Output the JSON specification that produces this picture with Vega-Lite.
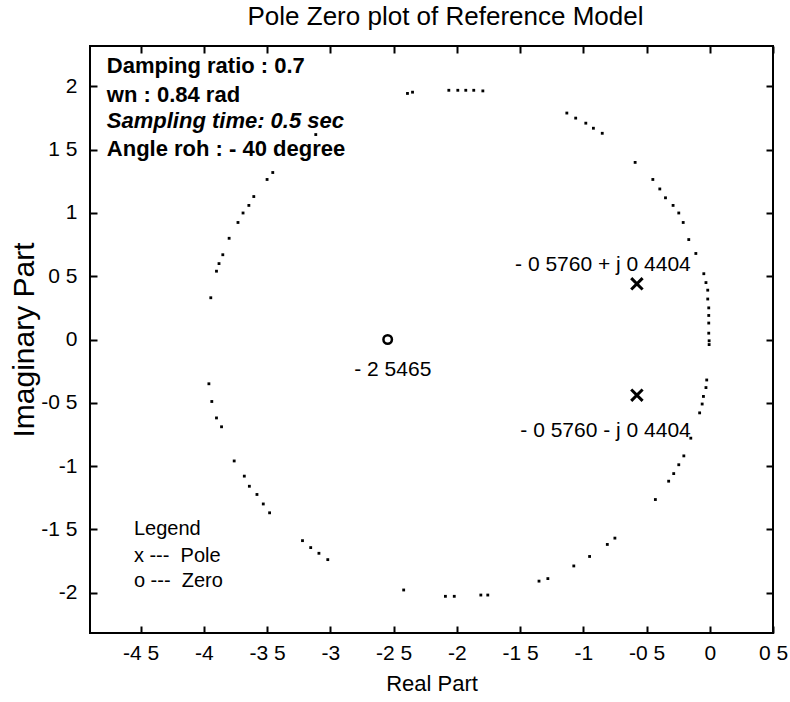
{
  "$schema": "https://vega.github.io/schema/vega-lite/v6.json",
  "width": 683,
  "height": 587,
  "autosize": {"type": "none"},
  "padding": {"left": 90, "top": 46, "right": 17, "bottom": 69},
  "background": "white",
  "config": {"font": "Liberation Sans", "view": {"stroke": "black", "strokeWidth": 2}},
  "title": {"text": "Pole Zero plot of Reference Model", "fontSize": 26, "fontWeight": "normal", "font": "Liberation Sans", "color": "black", "offset": 15, "dx": 14},
  "datasets": {
    "rho": [
      {"re": -2.39, "im": 1.945}, {"re": -2.35, "im": 1.955},
      {"re": -2.063, "im": 1.97}, {"re": -1.992, "im": 1.97}, {"re": -1.929, "im": 1.97}, {"re": -1.866, "im": 1.97}, {"re": -1.794, "im": 1.965},
      {"re": -3.115, "im": 1.62},
      {"re": -3.455, "im": 1.32}, {"re": -3.5, "im": 1.265}, {"re": -3.605, "im": 1.13}, {"re": -3.644, "im": 1.06}, {"re": -3.69, "im": 1.0}, {"re": -3.73, "im": 0.925}, {"re": -3.8, "im": 0.8}, {"re": -3.85, "im": 0.67}, {"re": -3.88, "im": 0.6}, {"re": -3.9, "im": 0.54}, {"re": -3.945, "im": 0.33},
      {"re": -3.96, "im": -0.35}, {"re": -3.937, "im": -0.49}, {"re": -3.9, "im": -0.62}, {"re": -3.86, "im": -0.69}, {"re": -3.76, "im": -0.96}, {"re": -3.68, "im": -1.08}, {"re": -3.64, "im": -1.16}, {"re": -3.58, "im": -1.225}, {"re": -3.53, "im": -1.3}, {"re": -3.48, "im": -1.37}, {"re": -3.22, "im": -1.59}, {"re": -3.155, "im": -1.645}, {"re": -3.09, "im": -1.69}, {"re": -3.02, "im": -1.74},
      {"re": -2.42, "im": -1.98}, {"re": -2.09, "im": -2.03}, {"re": -2.02, "im": -2.03}, {"re": -1.81, "im": -2.02}, {"re": -1.755, "im": -2.02},
      {"re": -1.35, "im": -1.91}, {"re": -1.28, "im": -1.89}, {"re": -1.075, "im": -1.79}, {"re": -0.95, "im": -1.715}, {"re": -0.81, "im": -1.62}, {"re": -0.75, "im": -1.57}, {"re": -0.43, "im": -1.265}, {"re": -0.325, "im": -1.12}, {"re": -0.285, "im": -1.06}, {"re": -0.245, "im": -0.99}, {"re": -0.205, "im": -0.92}, {"re": -0.15, "im": -0.78}, {"re": -0.08, "im": -0.58}, {"re": -0.06, "im": -0.51}, {"re": -0.05, "im": -0.45}, {"re": -0.03, "im": -0.38}, {"re": -0.024, "im": -0.32}, {"re": -0.005, "im": -0.01}, {"re": -0.005, "im": -0.04},
      {"re": -1.13, "im": 1.79}, {"re": -1.06, "im": 1.75}, {"re": -0.98, "im": 1.71}, {"re": -0.92, "im": 1.67}, {"re": -0.85, "im": 1.63}, {"re": -0.59, "im": 1.4}, {"re": -0.45, "im": 1.265}, {"re": -0.395, "im": 1.19}, {"re": -0.35, "im": 1.12}, {"re": -0.29, "im": 1.06}, {"re": -0.245, "im": 1.0}, {"re": -0.21, "im": 0.925}, {"re": -0.166, "im": 0.79}, {"re": -0.11, "im": 0.68}, {"re": -0.047, "im": 0.52}, {"re": -0.03, "im": 0.45}, {"re": -0.016, "im": 0.39}, {"re": -0.016, "im": 0.32}, {"re": -0.008, "im": 0.25}, {"re": -0.008, "im": 0.19}, {"re": -0.008, "im": 0.13}, {"re": -0.008, "im": 0.05}
    ],
    "poles": [{"re": -0.576, "im": 0.4404}, {"re": -0.576, "im": -0.4404}],
    "zeros": [{"re": -2.5465, "im": 0}],
    "rootLabels": [
      {"re": -0.15, "im": 0.54, "label": "- 0 5760 + j 0 4404"},
      {"re": -0.15, "im": -0.767, "label": "- 0 5760 - j 0 4404"}
    ],
    "zeroLabel": [{"re": -2.506, "im": -0.292, "label": "- 2 5465"}],
    "info": [
      {"re": -4.767, "im": 2.103, "label": "Damping ratio : 0.7"},
      {"re": -4.767, "im": 1.881, "label": "wn : 0.84 rad"},
      {"re": -4.767, "im": 1.447, "label": "Angle roh : - 40 degree"}
    ],
    "infoItalic": [{"re": -4.767, "im": 1.668, "label": "Sampling time: 0.5 sec"}],
    "legendText": [
      {"re": -4.553, "im": -1.542, "label": "Legend"},
      {"re": -4.553, "im": -1.755, "label": "x --- \u00a0Pole"},
      {"re": -4.553, "im": -1.96, "label": "o --- \u00a0Zero"}
    ]
  },
  "encoding": {
    "x": {"field": "re", "type": "quantitative", "scale": {"domain": [-4.9, 0.5], "nice": false, "zero": false}, "axis": null},
    "y": {"field": "im", "type": "quantitative", "scale": {"domain": [-2.32, 2.32], "nice": false, "zero": false}, "axis": null}
  },
  "layer": [
    {
      "data": {"name": "rho"},
      "mark": {"type": "point", "shape": "square", "filled": true, "size": 8, "color": "black", "opacity": 1},
      "encoding": {
        "x": {"field": "re", "type": "quantitative", "scale": {"domain": [-4.9, 0.5], "nice": false, "zero": false},
          "axis": {"orient": "bottom", "values": [-4.5, -4, -3.5, -3, -2.5, -2, -1.5, -1, -0.5, 0, 0.5],
            "labelExpr": "(datum.value < 0 ? '-' : '') + replace(format(abs(datum.value), '~g'), '.', ' ')",
            "tickSize": -7, "tickWidth": 2, "tickColor": "black", "domain": false, "grid": false,
            "labelPadding": 16, "labelFontSize": 21, "labelColor": "black", "labelFlush": false, "labelOverlap": false,
            "title": "Real Part", "titleFontSize": 22, "titleFontWeight": "normal", "titleColor": "black", "titleY": 50, "titleBaseline": "middle"}},
        "y": {"field": "im", "type": "quantitative", "scale": {"domain": [-2.32, 2.32], "nice": false, "zero": false},
          "axis": {"orient": "left", "values": [-2, -1.5, -1, -0.5, 0, 0.5, 1, 1.5, 2],
            "labelExpr": "(datum.value < 0 ? '-' : '') + replace(format(abs(datum.value), '~g'), '.', ' ')",
            "tickSize": -7, "tickWidth": 2, "tickColor": "black", "domain": false, "grid": false,
            "labelPadding": 20, "labelFontSize": 21, "labelColor": "black", "labelFlush": false, "labelOverlap": false,
            "title": "Imaginary Part", "titleFontSize": 30, "titleFontWeight": "normal", "titleColor": "black", "titleX": -66, "titleY": 293.5, "titleBaseline": "middle", "titleAngle": -90}}
      }
    },
    {
      "data": {"name": "poles"},
      "mark": {"type": "point", "shape": "M-1,-1L1,1M-1,1L1,-1", "filled": false, "size": 130, "stroke": "black", "strokeWidth": 3, "opacity": 1},
      "encoding": {
        "x": {"field": "re", "type": "quantitative", "scale": {"domain": [-4.9, 0.5], "nice": false, "zero": false},
          "axis": {"orient": "top", "values": [-4.5, -4, -3.5, -3, -2.5, -2, -1.5, -1, -0.5, 0, 0.5], "labels": false,
            "tickSize": -7, "tickWidth": 2, "tickColor": "black", "domain": false, "grid": false, "title": null}},
        "y": {"field": "im", "type": "quantitative", "scale": {"domain": [-2.32, 2.32], "nice": false, "zero": false},
          "axis": {"orient": "right", "values": [-2, -1.5, -1, -0.5, 0, 0.5, 1, 1.5, 2], "labels": false,
            "tickSize": -7, "tickWidth": 2, "tickColor": "black", "domain": false, "grid": false, "title": null}}
      }
    },
    {
      "data": {"name": "zeros"},
      "mark": {"type": "point", "shape": "circle", "filled": false, "size": 72, "stroke": "black", "strokeWidth": 2.5, "opacity": 1}
    },
    {
      "data": {"name": "rootLabels"},
      "mark": {"type": "text", "align": "right", "baseline": "alphabetic", "fontSize": 21, "color": "black"},
      "encoding": {"text": {"field": "label"}}
    },
    {
      "data": {"name": "zeroLabel"},
      "mark": {"type": "text", "align": "center", "baseline": "alphabetic", "fontSize": 21, "color": "black"},
      "encoding": {"text": {"field": "label"}}
    },
    {
      "data": {"name": "info"},
      "mark": {"type": "text", "align": "left", "baseline": "alphabetic", "fontSize": 22, "fontWeight": "bold", "color": "black"},
      "encoding": {"text": {"field": "label"}}
    },
    {
      "data": {"name": "infoItalic"},
      "mark": {"type": "text", "align": "left", "baseline": "alphabetic", "fontSize": 22, "fontWeight": "bold", "fontStyle": "italic", "color": "black"},
      "encoding": {"text": {"field": "label"}}
    },
    {
      "data": {"name": "legendText"},
      "mark": {"type": "text", "align": "left", "baseline": "alphabetic", "fontSize": 20, "color": "black"},
      "encoding": {"text": {"field": "label"}}
    }
  ],
  "resolve": {"axis": {"x": "independent", "y": "independent"}}
}
